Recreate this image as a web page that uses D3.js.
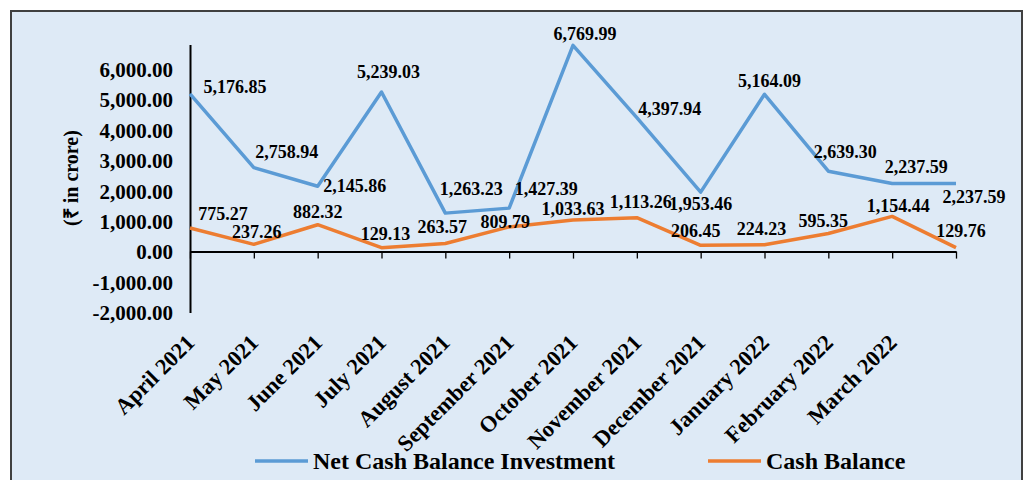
<!DOCTYPE html>
<html>
<head>
<meta charset="utf-8">
<script src="https://cdn.jsdelivr.net/npm/d3@7"></script>
<style>
  html, body { margin: 0; padding: 0; background: #fff; }
  svg text { font-family: "Liberation Serif", "Times New Roman", serif; font-weight: bold; fill: #000; }
</style>
</head>
<body>
<svg id="chart" width="1024" height="480"></svg>
<script>
// months (last point has no label)
const categories = ['April 2021', 'May 2021', 'June 2021', 'July 2021', 'August 2021',
  'September 2021', 'October 2021', 'November 2021', 'December 2021', 'January 2022',
  'February 2022', 'March 2022', ''];
const netCashInvestment = [5176.85, 2758.94, 2145.86, 5239.03, 1263.23, 1427.39, 6769.99,
  4397.94, 1953.46, 5164.09, 2639.30, 2237.59, 2237.59];
const cashBalance = [775.27, 237.26, 882.32, 129.13, 263.57, 809.79, 1033.63,
  1113.26, 206.45, 224.23, 595.35, 1154.44, 129.76];
const yTicks = [-2000, -1000, 0, 1000, 2000, 3000, 4000, 5000, 6000];
const seriesNames = ['Net Cash Balance Investment', 'Cash Balance'];

// label nudges [dx, dy] from each point, like the placement in the original
const blueLabelOffsets = [[45, -1], [33, -10], [37, 6], [7, -14], [26, -18], [37, -13], [12, -5],
  [33, -3], [0, 18], [5, -7], [17, -13], [24, -10], [18, 20]];
const orangeLabelOffsets = [[33, -8], [3, -6], [0, -7], [4, -8], [-3, -11], [-4, 1], [0, -5],
  [4, -10], [-5, -8], [-3, -10], [-5, -6], [6, -4], [5, -11]];

const svg = d3.select('#chart');

svg.append('rect')
  .attr('x', 11).attr('y', 11)
  .attr('width', 1011).attr('height', 475)
  .attr('fill', '#deeaf6')
  .attr('stroke', '#404040')
  .attr('stroke-width', 2);

const x = d3.scalePoint().domain(d3.range(categories.length)).range([190, 956]);
const y = d3.scaleLinear().domain([-2000, 6800]).range([312.5, 44.5]);
const fmt = d3.formatLocale({decimal: '.', thousands: ',', grouping: [3], currency: ['', ''], minus: '-'}).format(',.2f');

// y axis
const yAxis = svg.append('g')
  .attr('transform', 'translate(190,0)')
  .call(d3.axisLeft(y).tickValues(yTicks).tickFormat(fmt).tickSize(0).tickSizeOuter(0).tickPadding(17));
yAxis.select('.domain').attr('stroke', '#000').attr('stroke-width', 2);
yAxis.selectAll('text').style('font-size', '21px').attr('dy', '0.35em');

// x axis across zero
const xAxis = svg.append('g')
  .attr('transform', `translate(0,${y(0)})`)
  .call(d3.axisBottom(x).tickFormat('').tickSize(7).tickSizeOuter(0));
xAxis.select('.domain').attr('stroke', '#000').attr('stroke-width', 2);
xAxis.selectAll('.tick line').attr('stroke', '#000').attr('stroke-width', 1.3);

// category labels under the plot
svg.append('g').selectAll('text')
  .data(categories)
  .enter()
  .append('text')
  .attr('text-anchor', 'end')
  .attr('transform', (d, i) => `translate(${x(i) + 6},${344}) rotate(-45)`)
  .style('font-size', '22.5px')
  .text(d => d);

// y title
svg.append('text')
  .attr('transform', 'translate(78,178) rotate(-90)')
  .attr('text-anchor', 'middle')
  .style('font-size', '20px')
  .text('(₹ in crore)');

const line = d3.line()
  .x((d, i) => x(i))
  .y(d => y(d));

svg.append('path')
  .datum(netCashInvestment)
  .attr('fill', 'none')
  .attr('stroke', '#5b9bd5')
  .attr('stroke-width', 3.5)
  .attr('stroke-linejoin', 'round')
  .attr('d', line);

svg.append('path')
  .datum(cashBalance)
  .attr('fill', 'none')
  .attr('stroke', '#ed7d31')
  .attr('stroke-width', 3.5)
  .attr('stroke-linejoin', 'round')
  .attr('d', line);

// data labels
function addLabels(values, offsets) {
  svg.append('g').selectAll('text')
    .data(values)
    .enter()
    .append('text')
    .attr('text-anchor', 'middle')
    .attr('x', (d, i) => x(i) + offsets[i][0])
    .attr('y', (d, i) => y(d) + offsets[i][1])
    .style('font-size', '18px')
    .text(d => fmt(d));
}
addLabels(netCashInvestment, blueLabelOffsets);
addLabels(cashBalance, orangeLabelOffsets);

// legend
const legendColors = ['#5b9bd5', '#ed7d31'];
const legendX = [255, 708];
const legend = svg.append('g').selectAll('g')
  .data(seriesNames)
  .enter()
  .append('g')
  .attr('transform', (d, i) => `translate(${legendX[i]},461)`);
legend.append('line')
  .attr('x1', 0).attr('x2', 53)
  .attr('stroke', (d, i) => legendColors[i])
  .attr('stroke-width', 3.5);
legend.append('text')
  .attr('x', 58)
  .attr('y', 8)
  .style('font-size', '24px')
  .text(d => d);
</script>
</body>
</html>
